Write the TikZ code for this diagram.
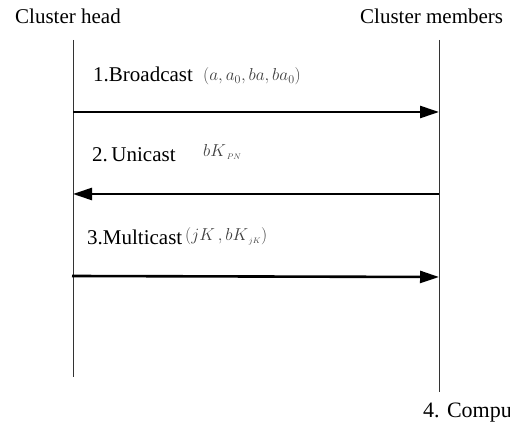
\documentclass[tikz,border=0pt]{standalone}
\usepackage{fontspec}
\setmainfont{Liberation Serif}
\usetikzlibrary{arrows.meta}
\begin{document}
\begin{tikzpicture}[x=1pt,y=1pt,
  lbl/.style={font=\fontsize{21}{25}\selectfont, inner sep=0pt, anchor=base west},
  maths/.style={font=\fontsize{17}{20}\selectfont, text=black!75, inner sep=0pt, anchor=base west},
  lifeline/.style={draw=black!80, line width=0.8pt},
  msg/.style={line width=2.6pt, -{Triangle[length=19pt,width=12pt]}}]
\clip (0,0) rectangle (510,433);
\useasboundingbox (0,0) rectangle (510,433);

% participants
\node[lbl] (head) at (15,409) {Cluster head};
\node[lbl] (members) at (360,409) {Cluster members};

% lifelines
\coordinate (hT) at (73,393);
\coordinate (hB) at (73,56);
\coordinate (mT) at (439,393);
\coordinate (mB) at (439,41);
\draw[lifeline] (hT) -- (hB);
\draw[lifeline] (mT) -- (mB);

% message end points on the lifelines
\coordinate (h1) at (73,321);
\coordinate (m1) at (439,321);
\coordinate (h2) at (73,239);
\coordinate (m2) at (439,239);
\coordinate (h3) at (72,157);
\coordinate (m3) at (439,156);

% step 1: broadcast
\node[lbl] (l1) at (93,351) {1.Broadcast};
\node[maths] (p1) at (203,352) {$(a,a_0,ba,ba_0)$};
\draw[msg] (h1) -- (m1);

% step 2: unicast
\node[lbl] (l2) at (92,271) {2.\,Unicast};
\node[maths] (p2) at (203,276) {$bK_{\,\scriptscriptstyle PN}$};
\draw[msg] (m2) -- (h2);

% step 3: multicast
\node[lbl] (l3) at (87,188) {3.Multicast};
\node[maths] (p3) at (185,192) {$\bigl(jK\,,bK_{\,\scriptscriptstyle jK}\bigr)$};
\draw[msg] (h3) -- (m3);

% step 4
\node[lbl, font=\fontsize{22}{26}\selectfont] (l4) at (423,16) {4. Compu};
\end{tikzpicture}
\end{document}
